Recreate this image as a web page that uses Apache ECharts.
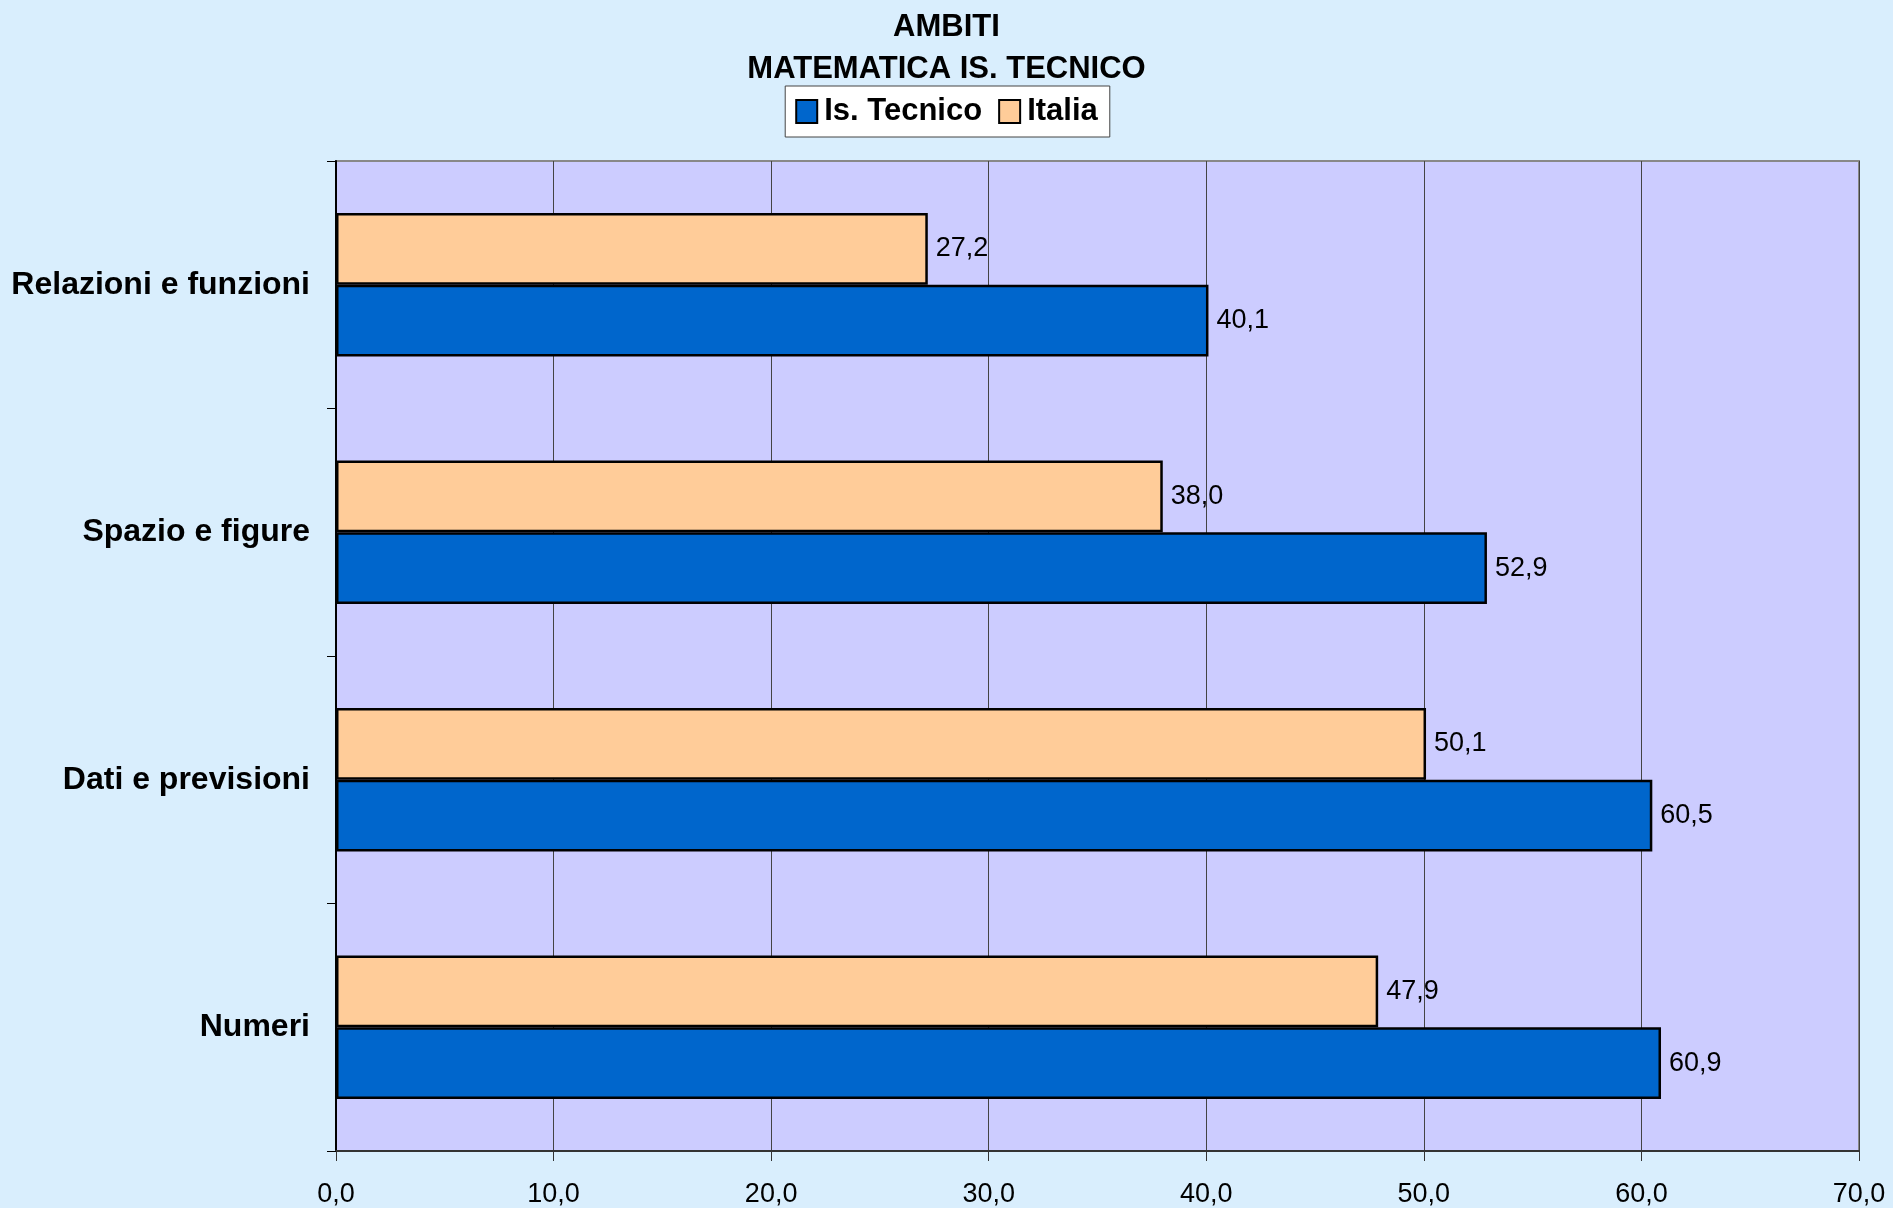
<!DOCTYPE html>
<html>
<head>
<meta charset="utf-8">
<title>Ambiti - Matematica Is. Tecnico</title>
<script src="https://cdn.jsdelivr.net/npm/echarts@6.0.0/dist/echarts.min.js"></script>
<style>
  html, body { margin: 0; padding: 0; background: #D9EEFD; }
  #myChart { width: 1893px; height: 1208px; }
</style>
</head>
<body>
<div id="myChart"></div>
<script>
// categories from bottom to top (as drawn on the y axis)
const categories = ['Numeri', 'Dati e previsioni', 'Spazio e figure', 'Relazioni e funzioni']
const legendData = ['Is. Tecnico', 'Italia']
const tecnicoValues = [60.9, 60.5, 52.9, 40.1]
const italiaValues = [47.9, 50.1, 38.0, 27.2]
const seriesColors = { 'Is. Tecnico': '#0066CC', 'Italia': '#FFCC99' }

const fontFamily = '"Liberation Sans", Arial, sans-serif'
const comma = v => v.toFixed(1).replace('.', ',')

let seriesData = { 'Is. Tecnico': tecnicoValues, 'Italia': italiaValues }
// Italia drawn first so it sits above Is. Tecnico inside each category
let series = []
;['Italia', 'Is. Tecnico'].forEach(val => {
    series.push({
        name: val,
        type: 'bar',
        barGap: '0%',
        barCategoryGap: '42%',
        itemStyle: {
            color: seriesColors[val],
            borderColor: '#000',
            borderWidth: 2.5
        },
        label: {
            show: true,
            position: 'right',
            distance: 8,
            color: '#000',
            fontFamily: fontFamily,
            fontSize: 27,
            formatter: p => comma(p.value)
        },
        data: seriesData[val]
    })
})

let myChart = echarts.init(document.getElementById('myChart'))
let option = {
    backgroundColor: '#D9EEFD',
    animation: false,
    title: {
        text: 'AMBITI\nMATEMATICA IS. TECNICO',
        left: 'center',
        top: 1,
        textStyle: {
            fontFamily: fontFamily,
            fontSize: 31,
            fontWeight: 'bold',
            color: '#000',
            lineHeight: 42
        }
    },
    legend: {
        data: legendData,
        top: 86,
        left: 'center',
        backgroundColor: '#fff',
        borderColor: '#444',
        borderWidth: 1,
        padding: [10, 12, 10, 10],
        itemGap: 16,
        itemWidth: 21,
        itemHeight: 23,
        icon: 'rect',
        textStyle: {
            fontFamily: fontFamily,
            fontSize: 31,
            fontWeight: 'bold',
            color: '#000',
            padding: [0, 0, 0, 2]
        }
    },
    grid: {
        left: 336,
        right: 34,
        top: 161,
        bottom: 56,
        show: true,
        backgroundColor: '#CCCCFF',
        borderColor: '#888',
        borderWidth: 2
    },
    xAxis: {
        type: 'value',
        min: 0,
        max: 70,
        interval: 10,
        axisLine: { show: true, lineStyle: { color: '#333', width: 2 } },
        axisTick: { show: true, length: 10, lineStyle: { color: '#333' } },
        splitLine: { show: true, lineStyle: { color: '#444', width: 1 } },
        axisLabel: {
            margin: 30,
            color: '#000',
            fontFamily: fontFamily,
            fontSize: 27,
            formatter: v => comma(v)
        }
    },
    yAxis: {
        type: 'category',
        data: categories,
        axisLine: { show: true, lineStyle: { color: '#000', width: 2 } },
        axisTick: { show: true, length: 9, lineStyle: { color: '#000' } },
        axisLabel: {
            margin: 26,
            color: '#000',
            fontFamily: fontFamily,
            fontSize: 32,
            fontWeight: 'bold'
        }
    },
    series: series
}
myChart.setOption(option)
</script>
</body>
</html>
